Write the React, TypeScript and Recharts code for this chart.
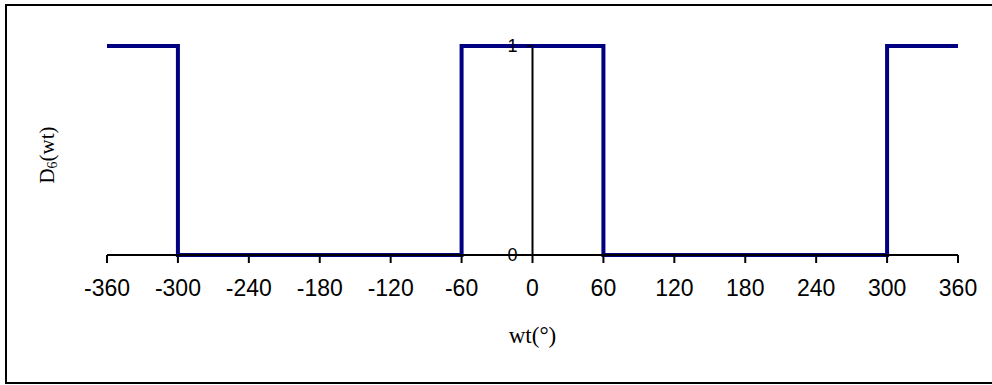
import { LineChart, Line, XAxis, YAxis, ReferenceLine, ReferenceDot, Label } from 'recharts'

// D6(wt) square wave, one period shown -360..360 deg
const angles = [-360, -300, -300, -60, -60, 60, 60, 300, 300, 360]
const d6 = [1, 1, 0, 0, 1, 1, 0, 0, 1, 1]
const xTicks = [-360, -300, -240, -180, -120, -60, 0, 60, 120, 180, 240, 300, 360]
const yTicks = [0, 1]

const data = angles.map((a, i) => ({ wt: a, d: d6[i] }))

const YTick = (props: any) => {
  const { cx, cy, value } = props
  return (
    <g>
      <line x1={cx - 6} x2={cx} y1={cy} y2={cy} stroke="#000" strokeWidth={1.5} />
      <text x={cx - 15} y={cy} textAnchor="end" dominantBaseline="central"
        fontFamily="'Liberation Sans',Arial,sans-serif" fontSize={18} fill="#000">{value}</text>
    </g>
  )
}

export default function App() {
  return (
    <div style={{ position: 'absolute', left: 0, top: 0, width: 992, height: 385, overflow: 'hidden', background: '#fff' }}>
      <div style={{ position: 'absolute', left: 5, top: 4, width: 1000, height: 380, border: '2px solid #000', boxSizing: 'border-box' }} />
      <div style={{ position: 'absolute', left: 48, top: 155, transform: 'translate(-50%,-50%) rotate(-90deg)', fontFamily: "'Liberation Serif','Times New Roman',serif", fontSize: 21, whiteSpace: 'nowrap' }}>
        D<sub style={{ fontSize: 14, verticalAlign: -3 }}>6</sub>(wt)
      </div>
      <LineChart width={992} height={385} data={data} margin={{ top: 46, right: 34, left: 107, bottom: 70 }} style={{ position: 'absolute', left: 0, top: 0 }}>
        <XAxis dataKey="wt" type="number" domain={[-360, 360]} ticks={xTicks} interval={0}
          height={60} tickSize={8} tickMargin={17}
          axisLine={{ stroke: '#000', strokeWidth: 2 }} tickLine={{ stroke: '#000', strokeWidth: 2 }}
          tick={{ fill: '#000', fontSize: 23, fontFamily: "'Liberation Sans',Arial,sans-serif" }}>
          <Label value="wt(°)" position="bottom" offset={12}
            style={{ fill: '#000', fontSize: 23, fontFamily: "'Liberation Serif','Times New Roman',serif" }} />
        </XAxis>
        <YAxis hide domain={[0, 1]} />
        <ReferenceLine x={0} stroke="#000" strokeWidth={2} />
        <Line type="linear" dataKey="d" stroke="#000080" strokeWidth={4} dot={false} isAnimationActive={false} />
        {yTicks.map(t => (
          <ReferenceDot key={t} x={0} y={t} r={1} ifOverflow="visible" shape={(p: any) => <YTick {...p} value={t} />} />
        ))}
      </LineChart>
    </div>
  )
}
